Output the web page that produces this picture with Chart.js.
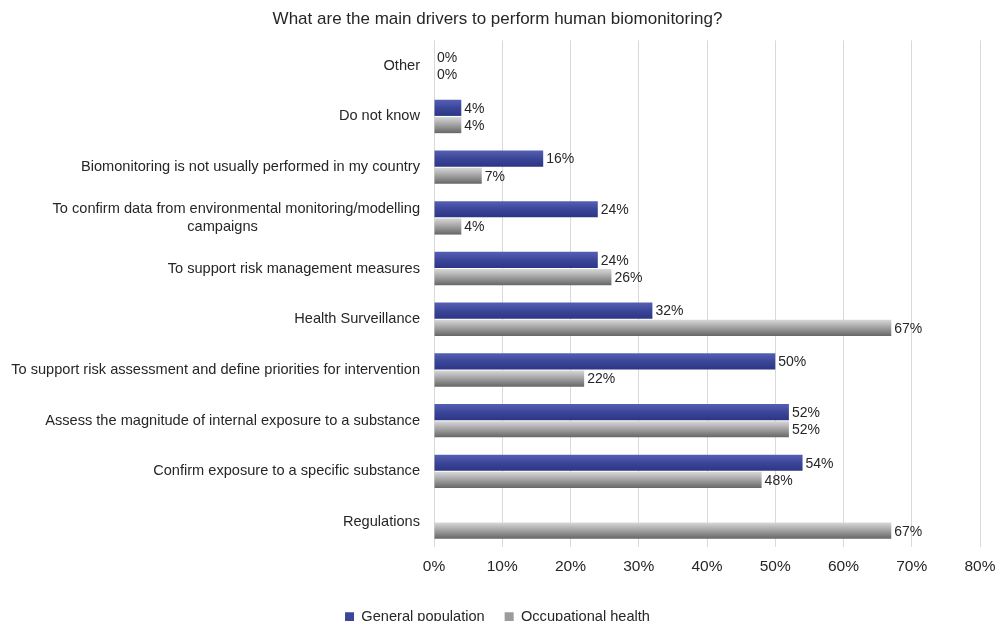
<!DOCTYPE html>
<html>
<head>
<meta charset="utf-8">
<script src="https://cdn.jsdelivr.net/npm/chart.js@4/dist/chart.umd.min.js"></script>
<style>
  html, body { margin: 0; padding: 0; background: #fff; }
  #wrap { width: 995px; height: 621px; }
</style>
</head>
<body>
<div id="wrap"><canvas id="driversChart"></canvas></div>
<script>
// categories, top to bottom
var categories = [
    "Other",
    "Do not know",
    "Biomonitoring is not usually performed in my country",
    ["To confirm data from environmental monitoring/modelling", "campaigns" + " ".repeat(40)],
    "To support risk management measures",
    "Health Surveillance",
    "To support risk assessment and define priorities for intervention",
    "Assess the magnitude of internal exposure to a substance",
    "Confirm exposure to a specific substance",
    "Regulations"
]
var generalPopulation = [0, 4, 16, 24, 24, 32, 50, 52, 54, null]
var occupationalHealth = [0, 4, 7, 4, 26, 67, 22, 52, 48, 67]
var xTicks = [0, 10, 20, 30, 40, 50, 60, 70, 80]

var font = "'Liberation Sans', Arial, sans-serif"
var textColor = "#262626"

// vertical gradient per bar, like the excel look
var gradientBars = {
    id: "gradientBars",
    beforeDatasetDraw: function(chart, args) {
        var ctx = chart.ctx
        var meta = args.meta
        ctx.save()
        meta.data.forEach(function(bar, i) {
            var v = chart.data.datasets[args.index].data[i]
            if (v === null || v === undefined) return
            var top = bar.y - bar.height / 2
            var bottom = bar.y + bar.height / 2
            var g = ctx.createLinearGradient(0, top, 0, bottom)
            if (args.index == 0) {
                g.addColorStop(0, "#5560b4")
                g.addColorStop(0.5, "#3c4699")
                g.addColorStop(1, "#2c3585")
            } else {
                g.addColorStop(0, "#d8d8d8")
                g.addColorStop(0.5, "#a0a0a0")
                g.addColorStop(1, "#666666")
            }
            bar.options.backgroundColor = g
            bar.draw(ctx, chart.chartArea)
        })
        ctx.restore()
        return false
    }
}

// value labels at the end of each bar
var valueLabels = {
    id: "valueLabels",
    afterDatasetsDraw: function(chart) {
        var ctx = chart.ctx
        ctx.save()
        ctx.font = "14px " + font
        ctx.fillStyle = textColor
        ctx.textAlign = "left"
        ctx.textBaseline = "middle"
        chart.data.datasets.forEach(function(ds, di) {
            var meta = chart.getDatasetMeta(di)
            meta.data.forEach(function(bar, i) {
                var v = ds.data[i]
                if (v === null || v === undefined) return
                ctx.fillText(v + "%", bar.x + 3, bar.y + 1)
            })
        })
        ctx.restore()
    }
}

var ctx = document.getElementById("driversChart").getContext("2d")
var driversChart = new Chart(ctx, {
    type: "bar",
    data: {
        labels: categories,
        datasets: [{
            label: "General population",
            data: generalPopulation,
            backgroundColor: "#3c4699",
            borderWidth: 0
        }, {
            label: "Occupational health",
            data: occupationalHealth,
            backgroundColor: "#9c9c9c",
            borderWidth: 0
        }]
    },
    options: {
        indexAxis: "y",
        responsive: true,
        maintainAspectRatio: false,
        animation: false,
        layout: {
            padding: { left: 0, right: 0, top: 0, bottom: -13 }
        },
        datasets: {
            bar: {
                categoryPercentage: 0.68,
                barPercentage: 0.94
            }
        },
        scales: {
            x: {
                min: 0,
                max: 80,
                afterBuildTicks: function(scale) {
                    scale.ticks = xTicks.map(function(v) { return { value: v } })
                },
                afterFit: function(scale) {
                    scale.height = 42
                    scale.paddingRight = 15
                },
                ticks: {
                    callback: function(v) { return v + "%" },
                    color: textColor,
                    font: { family: font, size: 15.5 },
                    padding: 10,
                    maxRotation: 0
                },
                grid: {
                    color: "#d9d9d9",
                    drawTicks: false
                },
                border: { display: false }
            },
            y: {
                afterFit: function(scale) { scale.width = 434 },
                ticks: {
                    color: textColor,
                    font: { family: font, size: 14.6 },
                    padding: 6
                },
                grid: { display: false },
                border: { display: false }
            }
        },
        plugins: {
            title: {
                display: true,
                text: "What are the main drivers to perform human biomonitoring?",
                color: "#262626",
                font: { family: font, size: 17, weight: "normal" },
                padding: { top: 9, bottom: 11 }
            },
            legend: {
                position: "bottom",
                labels: {
                    boxWidth: 9,
                    boxHeight: 9,
                    color: textColor,
                    font: { family: font, size: 14.6 },
                    padding: 20
                }
            },
            tooltip: { enabled: false }
        }
    },
    plugins: [gradientBars, valueLabels]
})
</script>
</body>
</html>
